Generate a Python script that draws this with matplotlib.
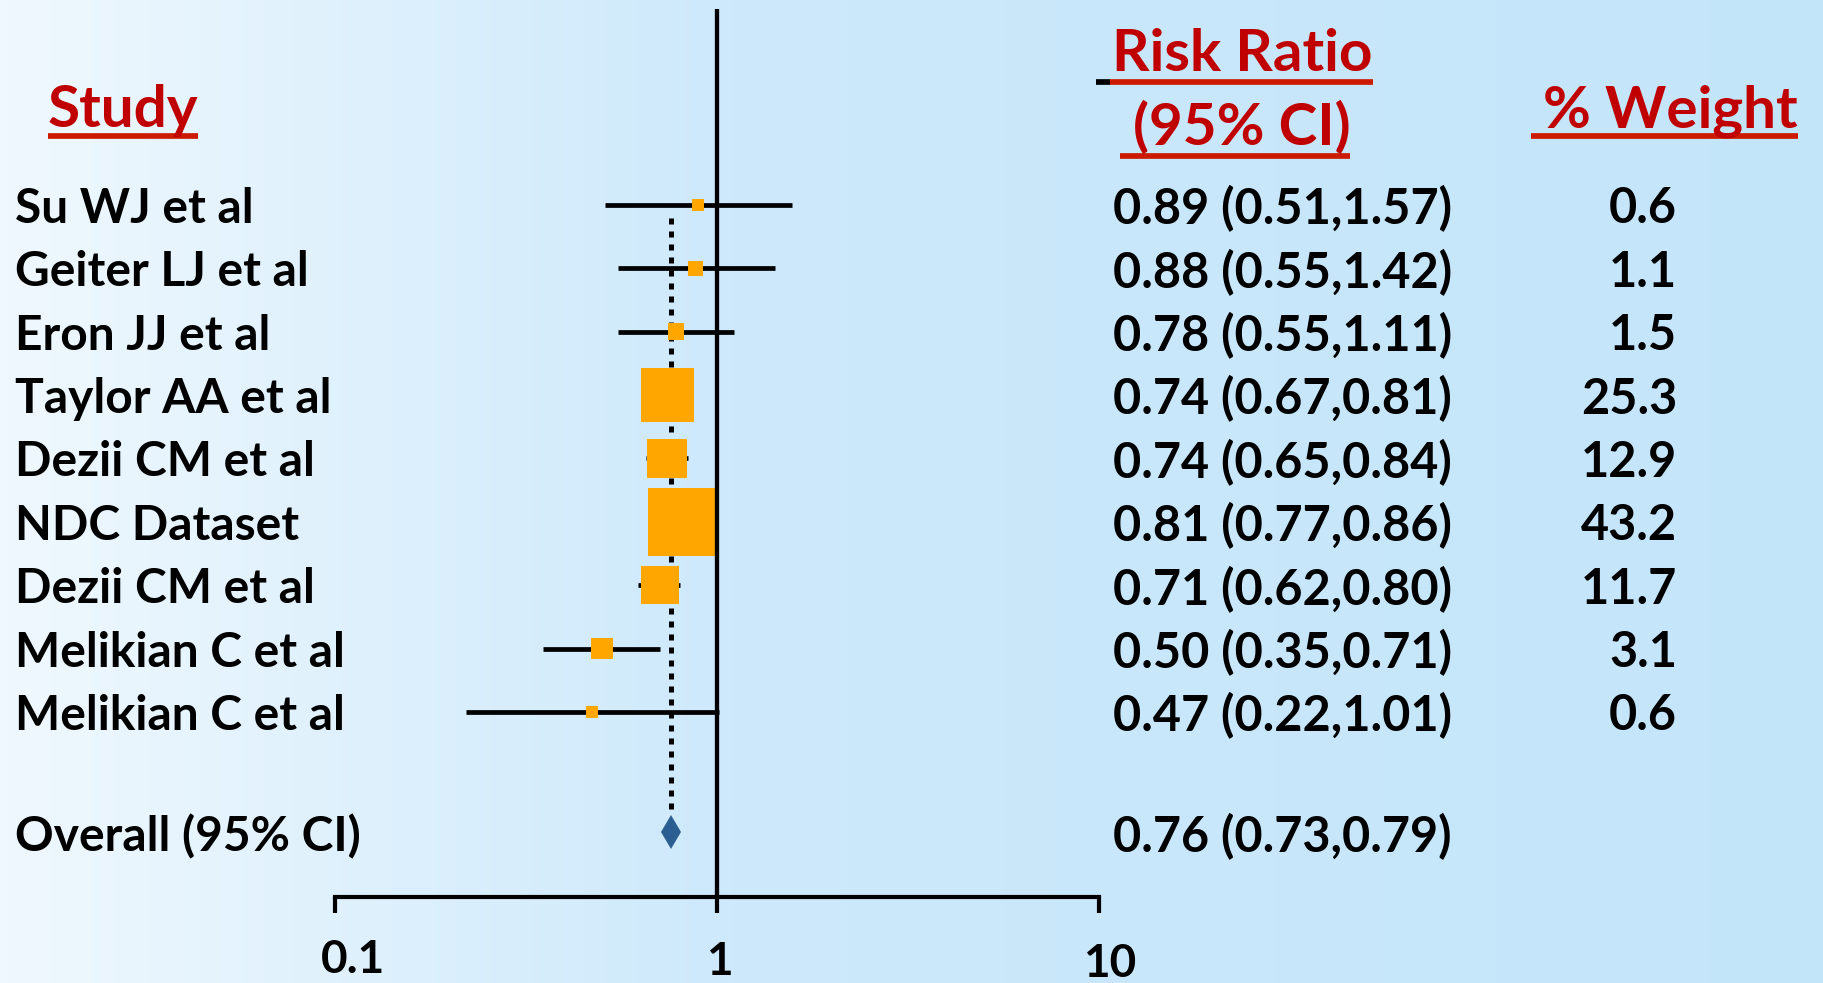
import numpy as np
import matplotlib.pyplot as plt
from matplotlib.colors import LinearSegmentedColormap
from matplotlib.lines import Line2D
from matplotlib.ticker import NullLocator
from matplotlib.transforms import blended_transform_factory, ScaledTranslation

# data
studies = ["Su WJ et al", "Geiter LJ et al", "Eron JJ et al", "Taylor AA et al",
           "Dezii CM et al", "NDC Dataset", "Dezii CM et al", "Melikian C et al",
           "Melikian C et al"]
rr = [0.89, 0.88, 0.78, 0.74, 0.74, 0.81, 0.71, 0.50, 0.47]
ci_low = [0.51, 0.55, 0.55, 0.67, 0.65, 0.77, 0.62, 0.35, 0.22]
ci_high = [1.57, 1.42, 1.11, 0.81, 0.84, 0.86, 0.80, 0.71, 1.01]
weights = [0.6, 1.1, 1.5, 25.3, 12.9, 43.2, 11.7, 3.1, 0.6]
overall_label = "Overall (95% CI)"
overall_rr = 0.76
overall_low = 0.73
overall_high = 0.79
x_ticks = [0.1, 1, 10]
x_tick_labels = ["0.1", "1", "10"]

W, H = 1824, 983
RED = "#C00000"
LINE_RED = "#CC1A00"
ORANGE = "#FFA600"
BLUE = "#2B5E93"

plt.rcParams["font.family"] = ["Lato", "DejaVu Sans"]
plt.rcParams["font.weight"] = "bold"


def fx(px):
    return px / W


def fy(py):
    return 1 - py / H


fig = plt.figure(figsize=(W / 100, H / 100), dpi=100)

# light blue gradient background
bg = fig.add_axes([0, 0, 1, 1], zorder=-10)
cmap = LinearSegmentedColormap.from_list(
    "bg", [(0, "#EFF8FE"), (0.4, "#CDE9FB"), (1, "#C3E5FA")])
bg.imshow(np.linspace(0, 1, 512)[None, :], aspect="auto", cmap=cmap,
          extent=[0, 1, 0, 1])
bg.axis("off")

ax = fig.add_axes([fx(335), fy(897), (1099 - 335) / W, (897 - 9) / H])
ax.patch.set_alpha(0)
ax.set_xscale("log")
ax.set_xlim(0.1, 10)
rows = np.arange(len(studies))
overall_row = 9.9
ax.set_ylim(10.92, -3.09)

for s in ["top", "left", "right"]:
    ax.spines[s].set_visible(False)
ax.spines["bottom"].set_linewidth(3)
ax.set_yticks([])
ax.xaxis.set_minor_locator(NullLocator())
ax.set_xticks(x_ticks)
ax.set_xticklabels([])
ax.tick_params(axis="x", direction="out", length=11.5, width=3, color="black")

# tick labels, slightly shifted as in the original
tick_dx = [18, 2, 11]
tick_dy = [-76, -78, -80]
for t, lab, dx, dy in zip(x_ticks, x_tick_labels, tick_dx, tick_dy):
    tr = ax.get_xaxis_transform() + ScaledTranslation(dx / 100, dy / 100, fig.dpi_scale_trans)
    ax.text(t, 0, lab, transform=tr, ha="center", va="baseline", fontsize=33)

# line of no effect
ax.axvline(1, color="black", lw=3.1, zorder=4)

# confidence intervals and weighted squares
ax.hlines(rows, ci_low, ci_high, color="black", lw=3.4, zorder=2)
sizes = [(4.5 + 9.66 * np.sqrt(w)) * 0.72 for w in weights]
ax.scatter(rr, rows, marker="s", s=np.array(sizes) ** 2, color=ORANGE,
           linewidths=0, zorder=3)

# overall estimate
ax.vlines(overall_rr, rows[0] + 0.2, overall_row - 0.27, color="black", lw=3.6,
          linestyles=(0, (1.2, 1.4)), zorder=2)
ax.plot(overall_rr, overall_row, marker="d", ms=17.3, color=BLUE, mew=0, zorder=5)

# row texts
trans = blended_transform_factory(fig.transFigure, ax.transData)
for i, name in enumerate(studies):
    ax.text(fx(15), rows[i], name, transform=trans, va="center_baseline", fontsize=34.5)
    ax.text(fx(1113), rows[i], f"{rr[i]:.2f} ({ci_low[i]:.2f},{ci_high[i]:.2f})",
            transform=trans, va="center_baseline", fontsize=35)
    ax.text(fx(1677), rows[i], f"{weights[i]:.1f}", transform=trans,
            va="center_baseline", ha="right", fontsize=35)
ax.text(fx(15), overall_row, overall_label, transform=trans, va="center_baseline", fontsize=34.5)
ax.text(fx(1113), overall_row, f"{overall_rr:.2f} ({overall_low:.2f},{overall_high:.2f})",
        transform=trans, va="center_baseline", fontsize=35)

# column headers
fig.text(fx(48), fy(127), "Study", color=RED, fontsize=42, va="baseline")
fig.text(fx(1242), fy(71), "Risk Ratio", color=RED, fontsize=42, va="baseline", ha="center")
fig.text(fx(1242), fy(145), "(95% CI)", color=RED, fontsize=42, va="baseline", ha="center")
fig.text(fx(1798), fy(127), "% Weight", color=RED, fontsize=42, va="baseline", ha="right")

underlines = [
    ((48, 198), 136, LINE_RED),
    ((1110, 1373), 82, LINE_RED),
    ((1096, 1110), 82, "black"),
    ((1120, 1350), 156, LINE_RED),
    ((1531, 1798), 136, LINE_RED),
]
for (x0, x1), y, c in underlines:
    fig.add_artist(Line2D([fx(x0), fx(x1)], [fy(y), fy(y)], color=c, lw=4.1,
                          solid_capstyle="butt"))

fig.savefig("out.png", dpi=100)
